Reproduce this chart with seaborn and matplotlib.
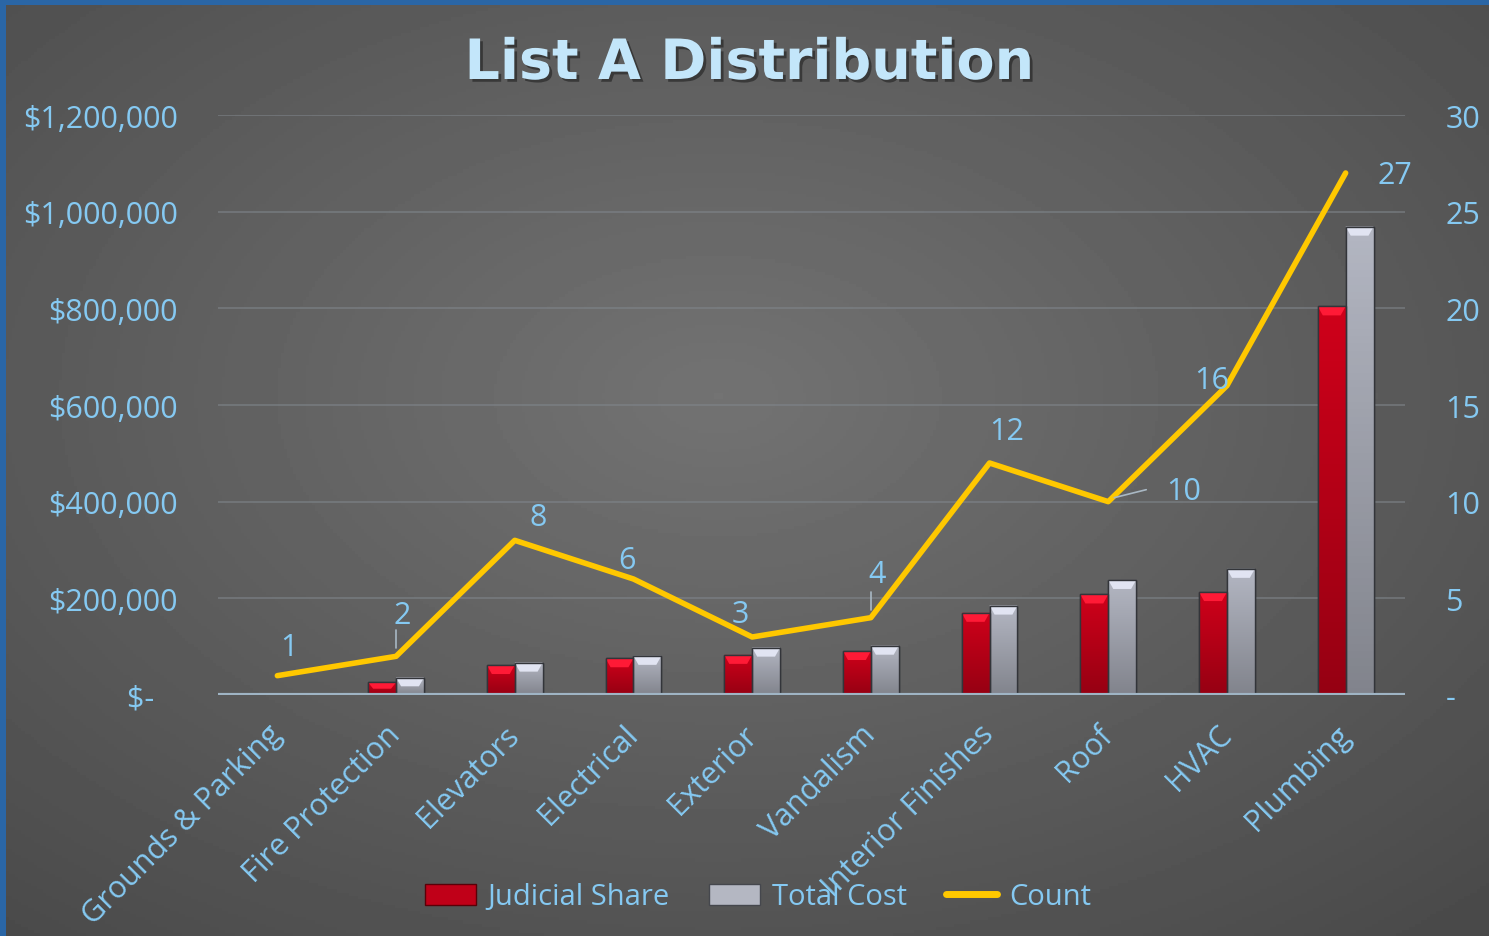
import numpy as np
import pandas as pd
import matplotlib
matplotlib.use("Agg")
import matplotlib.pyplot as plt
import matplotlib.patheffects as pe
from matplotlib.patches import Patch, Polygon
from matplotlib.lines import Line2D
import seaborn as sns

# chart data
categories = ["Grounds & Parking", "Fire Protection", "Elevators", "Electrical", "Exterior",
              "Vandalism", "Interior Finishes", "Roof", "HVAC", "Plumbing"]
judicial_share = [0, 26000, 62000, 76000, 83000, 91000, 170000, 208000, 213000, 804000]
total_cost = [0, 36000, 67000, 81000, 98000, 102000, 185000, 238000, 261000, 969000]
counts = [1, 2, 8, 6, 3, 4, 12, 10, 16, 27]
left_ticks = [0, 200000, 400000, 600000, 800000, 1000000, 1200000]
right_ticks = [0, 5, 10, 15, 20, 25, 30]

df = pd.DataFrame({
    "category": categories * 2,
    "series": ["Judicial Share"] * len(categories) + ["Total Cost"] * len(categories),
    "value": judicial_share + total_cost,
})

sns.set_theme(style="dark")
plt.rcParams["font.family"] = ["Open Sans", "DejaVu Sans"]

TXT = "#85c9f2"
RED = "#c00018"
SILVER = "#a6a9b4"
YELLOW = "#ffc800"

fig = plt.figure(figsize=(14.89, 9.37), dpi=100)
fig.patch.set_facecolor("#2a66a6")

# gray radial background panel
bg = fig.add_axes([6 / 1489, 0, 1 - 6 / 1489, 1 - 6 / 937])
yy, xx = np.mgrid[0:1:300j, 0:1:480j]
r = np.sqrt(((xx - 0.48) / 0.8) ** 2 + ((yy - 0.42) / 0.8) ** 2)
bg.imshow(0.45 - 0.17 * np.clip(r, 0, 1), cmap="gray", vmin=0, vmax=1, aspect="auto",
          extent=[0, 1, 0, 1], origin="upper")
bg.set_axis_off()

ax = fig.add_axes([218 / 1489, 1 - 696 / 937, (1405 - 218) / 1489, (696 - 116) / 937])
ax.patch.set_alpha(0)

sns.barplot(data=df, x="category", y="value", hue="series", order=categories,
            palette={"Judicial Share": RED, "Total Cost": SILVER}, width=0.47,
            saturation=1, legend=False, ax=ax, edgecolor="#33353a", linewidth=1)

ax.set_ylim(0, 1200000)
ax.set_xlim(-0.5, len(categories) - 0.5)
ax.set_yticks(left_ticks)
ax.set_yticklabels([f"${v:,.0f}" if v else "$-   " for v in left_ticks])
ax.yaxis.grid(True, color="#80868c", linewidth=1.3, alpha=0.6)
ax.xaxis.grid(False)
ax.set_axisbelow(True)
for s in ax.spines.values():
    s.set_visible(False)
ax.axhline(0, color="#9fb4c4", linewidth=3, zorder=5)
ax.set_xlabel("")
ax.set_ylabel("")
ax.tick_params(axis="y", colors=TXT, labelsize=22, pad=29, length=0)
ax.tick_params(axis="x", colors=TXT, labelsize=22, pad=25, length=0)
plt.setp(ax.get_xticklabels(), rotation=45, ha="right", va="center", rotation_mode="anchor")

# bar shading: vertical gradient + top bevel
fig.canvas.draw()
px_to_data = 1200000 / ax.get_window_extent().height
for bar in list(ax.patches):
    x, w, h = bar.get_x(), bar.get_width(), bar.get_height()
    if h <= 0:
        continue
    fc = np.array(matplotlib.colors.to_rgb(bar.get_facecolor()))
    grad = np.linspace(1.08, 0.78, 64)[:, None, None] * fc[None, None, :]
    im = ax.imshow(np.clip(grad, 0, 1), extent=[x, x + w, 0, h], aspect="auto",
                   origin="upper", zorder=bar.get_zorder() + 0.1)
    im.set_clip_path(bar)
    bh = min(9 * px_to_data, h * 0.5)
    top = Polygon([[x, h], [x + w, h], [x + w * 0.82, h - bh], [x + w * 0.18, h - bh]],
                  closed=True, facecolor=np.clip(fc * 1.2 + 0.1, 0, 1),
                  edgecolor="none", zorder=bar.get_zorder() + 0.2)
    ax.add_patch(top)
    edge = matplotlib.patches.Rectangle((x, 0), w, h, fill=False, edgecolor="#33353a",
                                        linewidth=1, zorder=bar.get_zorder() + 0.3)
    ax.add_patch(edge)
ax.set_xlim(-0.5, len(categories) - 0.5)
ax.set_ylim(0, 1200000)

# count line on secondary axis
ax2 = ax.twinx()
sns.lineplot(x=np.arange(len(categories)), y=counts, color=YELLOW, linewidth=4,
             solid_capstyle="round", ax=ax2, zorder=6)
ax2.set_ylim(0, 30)
ax2.set_yticks(right_ticks)
ax2.set_yticklabels([str(v) if v else "-" for v in right_ticks])
ax2.tick_params(axis="y", colors=TXT, labelsize=22, pad=29, length=0)
ax2.grid(False)
for s in ax2.spines.values():
    s.set_visible(False)

label_offsets = [(12, 29), (6, 41), (23, 23), (-6, 19), (-12, 23),
                 (6, 44), (17, 32), (75, 11), (-15, 6), (49, -2)]
for i, (c, off) in enumerate(zip(counts, label_offsets)):
    ax2.annotate(str(c), (i, c), xytext=off, textcoords="offset pixels",
                 ha="center", va="center", color=TXT, fontsize=22, zorder=7)
# small leader lines
for i, seg in [(1, (0, 8, 0, 26)), (5, (0, 8, 0, 26)), (7, (6, 4, 38, 12))]:
    p = ax2.transData.transform((i, counts[i]))
    x0, y0 = ax2.transData.inverted().transform((p[0] + seg[0], p[1] + seg[1]))
    x1, y1 = ax2.transData.inverted().transform((p[0] + seg[2], p[1] + seg[3]))
    ax2.plot([x0, x1], [y0, y1], color="#a9b8c4", linewidth=1.2, zorder=6)

fig.text(0.503, 1 - 65 / 937, "List A Distribution", ha="center", va="center",
         fontsize=40, fontweight="bold", color="#c3e6fa", family="DejaVu Sans",
         path_effects=[pe.withSimplePatchShadow(offset=(2, -2), shadow_rgbFace="black", alpha=0.4)])

handles = [Patch(facecolor=RED, edgecolor="#5a0008"),
           Patch(facecolor="#b4b7c2", edgecolor="#45474d"),
           Line2D([0], [0], color=YELLOW, linewidth=5, solid_capstyle="round")]
leg = fig.legend(handles, ["Judicial Share", "Total Cost", "Count"], loc="center",
                 bbox_to_anchor=(0.509, 1 - 898 / 937), ncol=3, frameon=False,
                 fontsize=21, handlelength=1.75, handleheight=0.7, columnspacing=1.35,
                 handletextpad=0.4)
for t in leg.get_texts():
    t.set_color(TXT)

fig.savefig("out.png", dpi=100, facecolor=fig.get_facecolor())
